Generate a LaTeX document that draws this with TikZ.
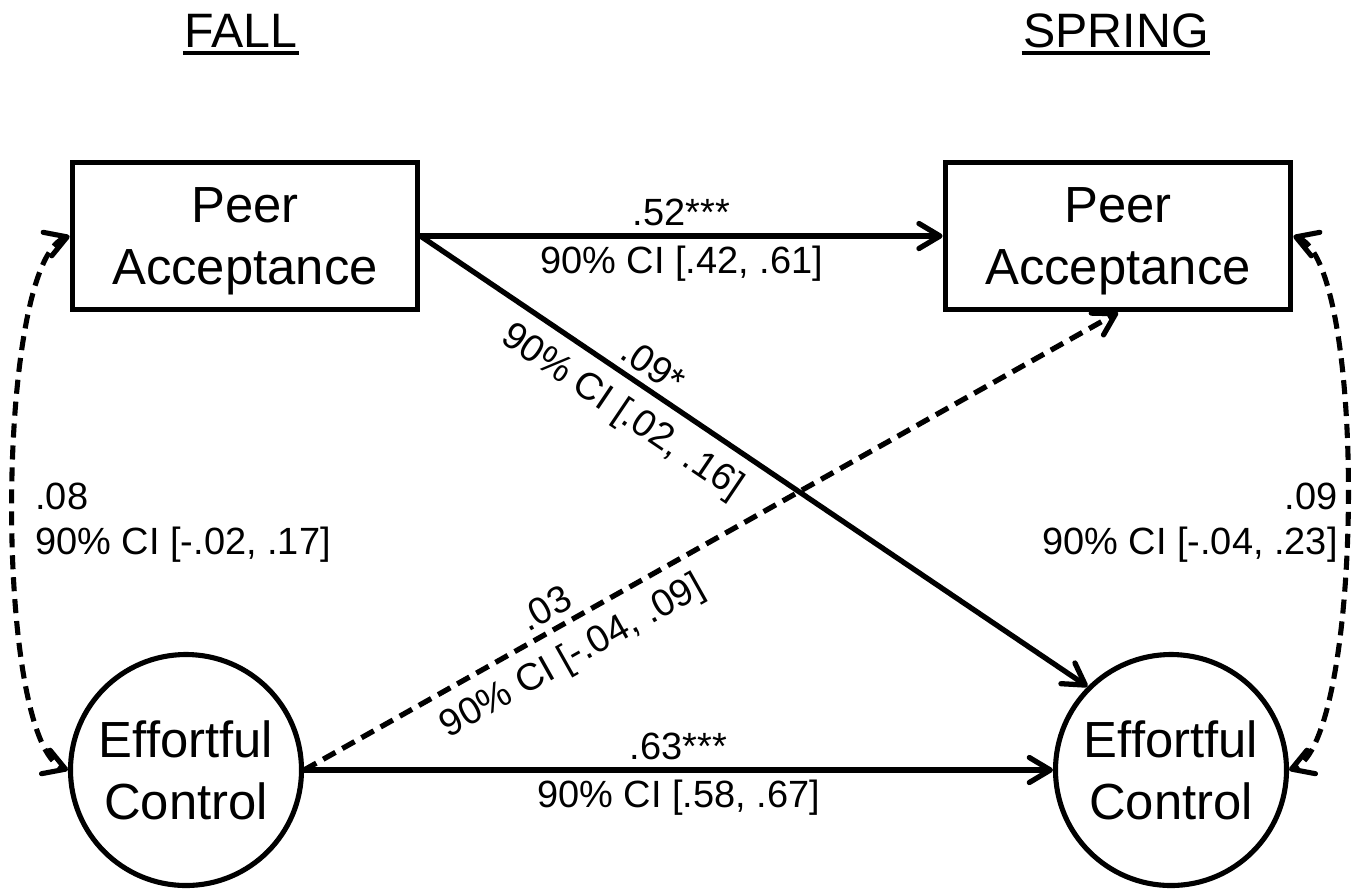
\documentclass[tikz,border=0pt]{standalone}
\usepackage{fontspec}
\setmainfont{Liberation Sans}
\usetikzlibrary{arrows.meta}
\tikzset{
  >={Straight Barb[length=0.42cm,width=0.5cm,round]},
  every node/.style={text=black},
  var/.style={draw,line width=3.3pt,minimum width=6.9cm,minimum height=2.94cm,align=center,text depth=-1pt,font=\fontsize{28.9}{35}\selectfont},
  latent/.style={var,circle,minimum size=4.62cm,inner sep=0pt,line width=2.9pt,text depth=-7pt},
  arrow/.style={->,line width=3pt},
  crossdash/.style={arrow,dash pattern=on 8pt off 4.5pt},
  corr/.style={<->,line width=2.9pt,dash pattern=on 8pt off 4.5pt},
  coef/.style={font=\fontsize{21.6}{25.6}\selectfont,inner sep=4pt},
  ci/.style={coef,inner ysep=7.5pt},
  head/.style={font=\fontsize{27.5}{30}\selectfont},
}
\newcommand{\headline}[1]{\setbox0=\hbox{#1}\rlap{\kern-1pt\raisebox{-4.6pt}{\rule{\dimexpr\wd0+2pt\relax}{2.2pt}}}\box0}

\begin{document}
\begin{tikzpicture}[x=0.2mm,y=0.2mm]
  \useasboundingbox (0,0) rectangle (1360,-888);
  \node[head,anchor=base] (fall) at (241,-47) {\headline{FALL}};
  \node[head,anchor=base] (spring) at (1116,-47) {\headline{SPRING}};

  \node[var] (paf) at (245,-236) {Peer\\Acceptance};
  \node[var] (pas) at (1118,-236) {Peer\\Acceptance};
  \node[latent] (ecf) at (186,-770) {Effortful\\Control};
  \node[latent] (ecs) at (1171,-770) {Effortful\\Control};

  \draw[arrow] (paf) -- node[coef,above]{.52***} node[coef,below]{90\% CI [.42, .61]} (pas);
  \draw[arrow] (ecf) -- node[coef,above]{.63***} node[coef,below]{90\% CI [.58, .67]} (ecs);
  \draw[arrow] (paf.east) -- node[coef,sloped,above,pos=.33]{.09*}
    node[ci,sloped,below,pos=.33]{90\% CI [.02, .16]} (ecs.135);
  \draw[crossdash] (ecf.east) -- node[coef,sloped,above,pos=.31]{.03}
    node[ci,sloped,below,pos=.31]{90\% CI [-.04, .09]} (pas.south);

  % covariances within each wave
  \draw[corr] (paf.west) to[out=200,in=160,looseness=.38] (ecf.west);
  \draw[corr] (pas.east) to[out=-20,in=20,looseness=.38] (ecs.east);
  \node[coef,anchor=west,align=left] (covf) at (28,-523) {.08\\90\% CI [-.02, .17]};
  \node[coef,anchor=east,align=right] (covs) at (1345,-523) {.09\\90\% CI [-.04, .23]};
\end{tikzpicture}
\end{document}
